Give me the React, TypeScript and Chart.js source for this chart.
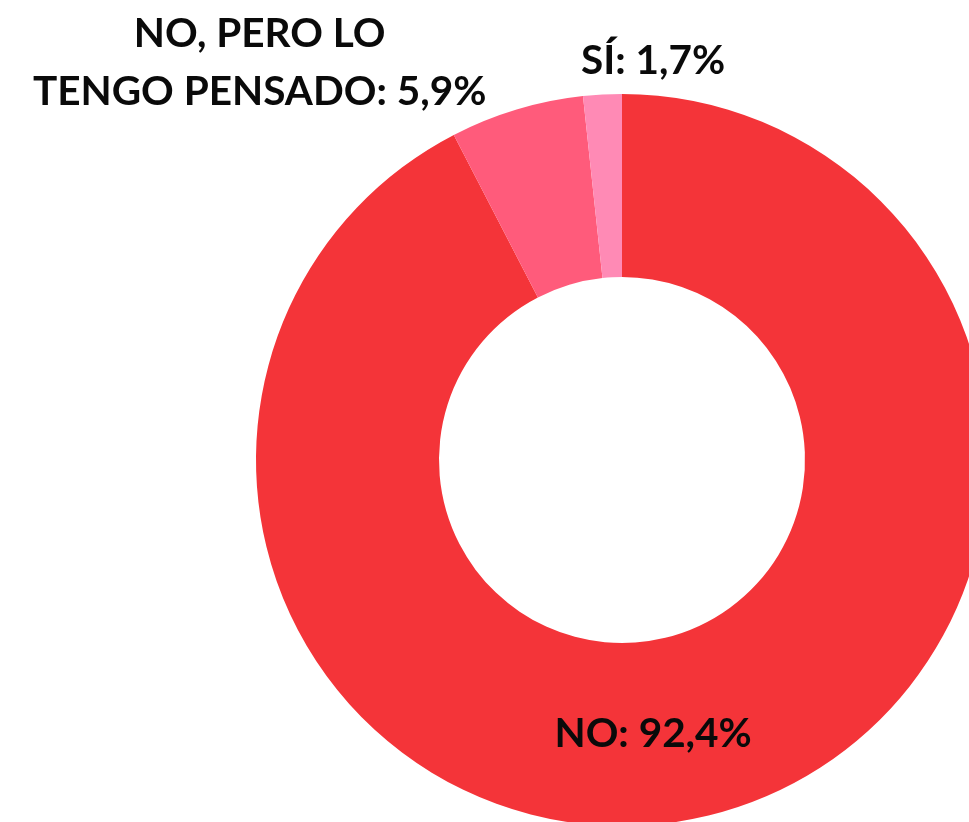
import React, { useEffect, useRef } from "react";
import { Chart, registerables } from "chart.js";

Chart.register(...registerables);

const categories = ["NO", "NO, PERO LO TENGO PENSADO", "SÍ"];
const values = [92.4, 5.9, 1.7];
const valueLabels = ["92,4%", "5,9%", "1,7%"];
const labelLines = [["NO: 92,4%"], ["NO, PERO LO", "TENGO PENSADO: 5,9%"], ["SÍ: 1,7%"]];
const colors = ["#F43439", "#FF5B7B", "#FF8AB5"];

// label anchor offsets relative to the doughnut centre, in units of outer radius
const labelAnchors = [
  { dx: 0.085, dy: 0.748 },
  { dx: -0.99, dy: -1.165 },
  { dx: 0.085, dy: -1.09 },
];
const lineGap = 0.16;

const labelPlugin = {
  id: "sliceLabels",
  afterDraw(chart: any) {
    const meta = chart.getDatasetMeta(0);
    const ctx = chart.ctx;
    ctx.save();
    ctx.fillStyle = "#0a0a0a";
    ctx.textAlign = "center";
    ctx.textBaseline = "middle";
    ctx.font = "bold 40.5px Lato, 'Open Sans', sans-serif";
    meta.data.forEach((arc: any, i: number) => {
      const R = arc.outerRadius;
      const a = labelAnchors[i];
      const x = arc.x + a.dx * R;
      const y = arc.y + a.dy * R;
      labelLines[i].forEach((line, j) => {
        ctx.fillText(line, x, y + j * lineGap * R);
      });
    });
    ctx.restore();
  },
};

export default function App() {
  const ref = useRef<HTMLCanvasElement>(null);
  useEffect(() => {
    if (!ref.current) return;
    const chart = new Chart(ref.current, {
      type: "doughnut",
      data: {
        labels: categories,
        datasets: [
          {
            data: values,
            backgroundColor: colors,
            borderWidth: 0,
            hoverOffset: 0,
          },
        ],
      },
      options: {
        animation: false,
        responsive: false,
        maintainAspectRatio: false,
        cutout: "50%",
        layout: { padding: { top: 94, bottom: 94, left: 256, right: 256 } },
        plugins: {
          legend: { display: false },
          tooltip: { enabled: false },
        },
      },
      plugins: [labelPlugin],
    });
    return () => chart.destroy();
  }, []);
  return (
    <div
      style={{
        position: "absolute",
        left: 0,
        top: 0,
        width: 969,
        height: 822,
        overflow: "hidden",
        background: "#ffffff",
      }}
    >
      <canvas ref={ref} width={1244} height={920} style={{ display: "block" }} />
    </div>
  );
}
